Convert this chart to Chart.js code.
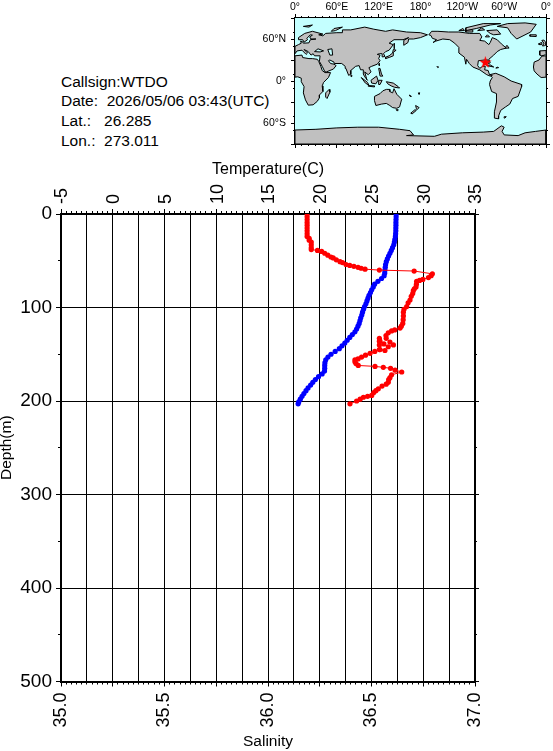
<!DOCTYPE html>
<html>
<head>
<meta charset="utf-8">
<title>WTDO</title>
<script src="https://cdn.jsdelivr.net/npm/chart.js@4/dist/chart.umd.min.js"></script>
<style>
html, body { margin: 0; padding: 0; background: #fff; width: 553px; height: 751px; overflow: hidden; }
canvas { position: absolute; }
#profileChart { left: 0; top: 155px; }
#mapChart { left: 250px; top: 0; }
.info { position: absolute; left: 61px; font: 15.5px "Liberation Sans", sans-serif; line-height: 18px; white-space: pre; color: #000; }
</style>
</head>
<body>
<div class="info" style="top:73px">Callsign:WTDO</div>
<div class="info" style="top:92px">Date:  2026/05/06 03:43(UTC)</div>
<div class="info" style="top:112px">Lat.:   26.285</div>
<div class="info" style="top:132px">Lon.:  273.011</div>
<canvas id="profileChart" width="553" height="596"></canvas>
<canvas id="mapChart" width="303" height="160"></canvas>
<script>
var tempDepths = [0, 3, 6, 9, 12, 15, 18, 21, 24, 27, 30, 33, 36, 39, 42, 45, 48, 51, 54, 57, 60, 63, 66, 69, 72, 75, 78, 81, 84, 87, 90, 93, 96, 99, 102, 105, 108, 111, 114, 117, 120, 123, 126, 129, 132, 135, 138, 141, 144, 147, 150, 153, 156, 159, 162, 165, 168, 171, 174, 177, 180, 183, 186, 189, 192, 195, 198, 201, 203];
var temperatures = [27.38, 27.38, 27.37, 27.36, 27.36, 27.35, 27.35, 27.33, 27.31, 27.26, 27.21, 27.15, 27.03, 26.91, 26.78, 26.65, 26.53, 26.43, 26.36, 26.33, 26.30, 26.28, 26.22, 25.97, 25.62, 25.30, 25.17, 25.02, 24.90, 24.76, 24.66, 24.56, 24.46, 24.33, 24.23, 24.13, 24.06, 23.96, 23.89, 23.81, 23.69, 23.56, 23.40, 23.15, 22.90, 22.65, 22.42, 22.15, 21.89, 21.49, 21.09, 20.79, 20.58, 20.50, 20.48, 20.48, 20.46, 20.23, 19.88, 19.58, 19.33, 19.12, 18.87, 18.67, 18.47, 18.29, 18.12, 17.97, 17.91];

var salDepths = [0, 3, 6, 9, 12, 15, 18, 21, 24, 26, 28, 30, 33, 36, 38, 39, 40, 42, 44, 46, 47, 49, 51, 52, 54, 55, 56, 57, 58, 59, 60, 61, 64, 66, 68, 70, 71, 72, 75, 78, 80, 82, 85, 88, 92, 95, 99, 102, 105, 109, 113, 117, 120, 122, 124, 125, 127, 130, 133, 137, 140, 142, 139, 136, 133, 136, 140, 145, 146, 145, 147, 149, 151, 153, 155, 156, 158, 160, 162, 163, 164, 165, 167, 169, 172, 175, 177, 180, 182, 184, 187, 189, 191, 194, 195, 196, 198, 200, 203];
var salinities = [36.189, 36.189, 36.189, 36.189, 36.189, 36.189, 36.189, 36.189, 36.189, 36.199, 36.199, 36.209, 36.209, 36.209, 36.209, 36.239, 36.259, 36.274, 36.289, 36.304, 36.315, 36.33, 36.348, 36.36, 36.377, 36.395, 36.415, 36.435, 36.45, 36.469, 36.538, 36.706, 36.794, 36.788, 36.775, 36.748, 36.732, 36.718, 36.717, 36.715, 36.707, 36.702, 36.699, 36.692, 36.686, 36.677, 36.67, 36.657, 36.654, 36.654, 36.653, 36.651, 36.644, 36.638, 36.612, 36.597, 36.581, 36.57, 36.571, 36.589, 36.606, 36.581, 36.56, 36.538, 36.538, 36.541, 36.538, 36.538, 36.565, 36.541, 36.516, 36.493, 36.471, 36.452, 36.435, 36.42, 36.42, 36.425, 36.436, 36.517, 36.557, 36.592, 36.614, 36.646, 36.597, 36.589, 36.583, 36.581, 36.571, 36.551, 36.533, 36.521, 36.511, 36.501, 36.481, 36.461, 36.445, 36.428, 36.396];

var tempTicks = { '-5': '-5', '0': '0', '5': '5', '10': '10', '15': '15', '20': '20', '25': '25', '30': '30', '35': '35' };
var salTickLabels = ['35.0', '35.5', '36.0', '36.5', '37.0'];
var lonTickLabels = ['0°', '60°E', '120°E', '180°', '120°W', '60°W', '0°'];
var latTickLabels = { '60': '60°N', '0': '0°', '-60': '60°S' };

var stationLon = [273.011];
var stationLat = [26.285];

var africa = [[0, 36], [10, 37], [11, 33.5], [20, 32], [25, 32], [32, 31], [34, 28], [37, 21], [39, 15], [43, 12], [51, 12], [48, 5], [41, -2], [39, -7], [40, -15], [35, -20], [35, -24], [32, -29], [26, -34], [19, -34.5], [15, -27], [12, -17], [13, -8], [9, -1], [9, 4], [4, 6], [0, 5.5]];
var westAfrica = [[360, 36], [354, 35.5], [350, 30], [343, 27], [342, 20], [343, 14.5], [347, 10], [353, 5], [360, 5.5]];
var eurasia = [[0, 39], [0, 49.5], [5, 52], [9, 54], [8, 57], [11, 56], [12, 54], [20, 54.5], [22, 59], [30, 60], [23, 60], [21, 63], [25, 65.5], [22, 66], [17, 61], [18, 59], [13, 55.5], [11, 59], [5, 59], [5, 62], [14, 68], [25, 71], [40, 67], [34, 66], [40, 64.5], [44, 68], [60, 69], [68, 69], [68, 73], [80, 73], [100, 77], [113, 74], [130, 71], [140, 73], [160, 70], [180, 69], [190, 66], [180, 62], [170, 60], [163, 60], [162, 55], [156, 51], [156, 58], [163, 62], [155, 59], [142, 59], [135, 54], [141, 52], [135, 44], [130, 42], [127, 39], [129, 35], [126, 34.5], [125, 39], [121, 39], [118, 38], [122, 37], [120, 32], [122, 29], [118, 24], [110, 21], [106, 19], [109, 13], [105, 9], [100, 13], [103, 2], [104, 1], [100, 6], [98, 10], [98, 16], [94, 16], [92, 22], [87, 21], [80, 15], [80, 10], [77, 8], [73, 18], [72, 21], [67, 25], [57, 25], [56, 27], [50, 30], [48, 29], [51, 25], [56, 24], [59, 22], [55, 17], [45, 13], [43, 13], [39, 21], [35, 28], [36, 36], [28, 36], [26, 39], [23, 37], [19, 42], [13, 45], [18, 40], [16, 38], [10, 44], [3, 43]];
var iberia = [[360, 43.5], [351, 43], [351, 37], [354, 36], [358, 37], [360, 39]];
var britain = [[360, 51.5], [358, 50.5], [355, 50], [357, 54], [354, 58], [357, 58.5], [359, 56], [360, 54]];
var ireland = [[350, 52], [354, 52], [354, 55], [351, 54]];
var iceland = [[337, 64], [346, 63.5], [346, 66], [337, 66]];
var northAmerica = [[192, 66], [196, 71], [205, 71], [220, 70], [235, 70], [250, 68], [265, 68], [268, 63], [265, 58], [272, 57], [278, 52], [280, 55], [283, 62], [290, 59], [296, 53], [303, 47], [295, 45], [290, 42], [285, 37], [278, 31], [280, 26], [278, 25], [277, 30], [272, 30], [263, 29], [262, 22], [265, 18], [269, 21], [273, 21], [272, 16], [277, 15], [279, 9], [283, 8], [280, 7], [275, 9], [265, 16], [255, 20], [250, 25], [246, 31], [245, 24], [243, 34], [235, 40], [235, 48], [229, 54], [222, 59], [212, 60], [202, 57], [198, 55], [203, 59], [197, 61], [195, 65]];
var ellesmere = [[245, 72], [260, 75], [280, 80], [295, 82], [270, 82], [245, 76]];
var baffin = [[285, 66], [295, 67], [290, 73], [275, 72], [280, 68]];
var victoria = [[245, 70], [255, 70], [255, 73], [245, 73]];
var banks = [[235, 72], [243, 72], [241, 75]];
var devon = [[262, 72], [272, 73], [268, 76]];
var southampton = [[273, 63], [279, 63], [276, 66]];
var greenland = [[305, 82], [330, 83], [346, 81], [338, 70], [318, 60], [310, 68], [305, 76], [290, 78]];
var newfoundland = [[301, 47], [307, 47], [304, 51]];
var cuba = [[275, 22], [285, 20], [280, 23]];
var hispaniola = [[288, 18.5], [292, 19], [291, 20]];
var southAmerica = [[279, 9], [288, 11], [300, 6], [310, 0], [325, -5], [325, -8], [320, -22], [312, -25], [308, -33], [302, -37], [295, -42], [292, -50], [292, -54], [286, -53], [286, -44], [289, -30], [289, -18], [282, -15], [279, -5], [280, 0], [283, 5]];
var falklands = [[300, -51], [303, -51], [301, -53]];
var australia = [[114, -22], [122, -18], [126, -14], [131, -12], [136, -12], [136, -15], [140, -17], [142, -11], [146, -19], [153, -26], [150, -37], [146, -39], [140, -38], [136, -35], [131, -32], [124, -33], [116, -35], [114, -28]];
var nzNorth = [[173, -35], [178, -38], [175, -41], [174, -39]];
var nzSouth = [[172, -41], [174, -42], [168, -47], [166, -46]];
var newGuinea = [[131, -1], [141, -3], [148, -8], [150, -10], [143, -9], [138, -7], [133, -4]];
var borneo = [[109, 1], [117, 7], [119, 1], [116, -4], [110, -3]];
var sumatra = [[95, 5], [104, -2], [106, -6], [101, -3]];
var java = [[105, -6.5], [114, -7], [114, -8.5], [106, -7.5]];
var sulawesi = [[120, 1], [125, 1], [122, -5], [120, -5]];
var philippines = [[120, 18], [122, 18], [124, 10], [126, 7], [122, 7], [121, 13]];
var japan = [[130, 32], [136, 34], [141, 36], [141, 41], [145, 44], [141, 45], [140, 40], [135, 36], [130, 34]];
var sriLanka = [[80, 9.5], [82, 7], [80.5, 6]];
var madagascar = [[49, -12], [50, -16], [46, -25], [44, -23], [44, -17]];
var sakhalin = [[142, 46], [143, 54], [142, 50]];
var taiwan = [[121, 25], [121, 22], [120, 23]];
var novayaZemlya = [[52, 71], [56, 75], [68, 77], [58, 72]];
var svalbard = [[12, 78], [25, 80], [20, 77]];
var tasmania = [[145, -41], [148, -41], [147, -43]];
var hawaii = [[203.5, 20.5], [205, 19], [206, 20]];
var fiji = [[177, -17], [179, -17], [178, -19]];
var newCaledonia = [[164, -20], [167, -22], [165, -22]];
var antarctica = [[0, -70], [30, -69], [60, -67], [90, -66], [120, -66], [150, -69], [165, -71], [170, -77], [160, -78], [200, -79], [210, -76], [240, -74], [270, -73], [285, -72], [296, -64], [300, -66], [297, -72], [300, -77], [320, -78], [330, -74], [345, -72], [360, -70], [360, -90], [0, -90]];
var blackSea = [[28, 42], [33, 46], [41, 43], [36, 41.5]];
var caspian = [[47, 45], [53, 46], [54, 37], [50, 37]];

var landShapes = [africa, westAfrica, eurasia, iberia, britain, ireland, iceland, northAmerica, ellesmere, baffin, victoria, banks, devon, southampton, greenland, newfoundland, cuba, hispaniola, southAmerica, falklands, australia, nzNorth, nzSouth, newGuinea, borneo, sumatra, java, sulawesi, philippines, japan, sriLanka, madagascar, sakhalin, taiwan, novayaZemlya, svalbard, tasmania, hawaii, fiji, newCaledonia, antarctica];
var seaShapes = [blackSea, caspian];

var landColor = '#c0c0c0';
var seaColor = '#c4ffff';
var textFont = '"Liberation Sans", sans-serif';

// keeps an axis box at a fixed size, so the plot area lands where the reference has it
function fixedSize(size) {
    return function(scale) {
        if (scale.isHorizontal()) {
            scale.height = size;
        } else {
            scale.width = size;
        }
        scale.paddingLeft = 0;
        scale.paddingRight = 0;
        scale.paddingTop = 0;
        scale.paddingBottom = 0;
    };
}

// an unlabelled axis of zero size that only draws tick marks (or grid lines)
function markAxis(axis, position, min, max, step, tickLength, onChart) {
    return {
        axis: axis,
        type: 'linear',
        position: position,
        min: min,
        max: max,
        weight: -1,
        afterFit: fixedSize(0),
        border: { display: false },
        grid: {
            drawOnChartArea: !!onChart,
            drawTicks: tickLength > 0,
            tickLength: tickLength,
            color: '#000',
            tickColor: '#000',
            lineWidth: 1
        },
        ticks: {
            stepSize: step,
            autoSkip: false,
            callback: function() { return ''; },
            padding: 0,
            font: { size: 1 }
        }
    };
}

function pointsFrom(xs, ys) {
    return xs.map(function(x, i) {
        return { x: x, y: ys[i] };
    });
}

function profileDataset(label, xs, ys, color, xAxis) {
    return {
        label: label,
        data: pointsFrom(xs, ys),
        showLine: true,
        borderColor: color,
        backgroundColor: color,
        borderWidth: 1,
        pointRadius: 2.6,
        pointBorderWidth: 0,
        tension: 0,
        xAxisID: xAxis,
        yAxisID: 'yDepth'
    };
}

var profileConfig = {
    type: 'scatter',
    data: {
        datasets: [
            profileDataset('Salinity', salinities, salDepths, '#ff0000', 'xSal'),
            profileDataset('Temperature', temperatures, tempDepths, '#0000ff', 'xTemp')
        ]
    },
    options: {
        responsive: false,
        animation: false,
        layout: { padding: { right: 78 } },
        plugins: { legend: { display: false }, tooltip: { enabled: false } },
        scales: {
            xTemp: {
                axis: 'x',
                type: 'linear',
                position: 'top',
                min: -5,
                max: 35,
                afterFit: fixedSize(59),
                border: { color: '#000', width: 2 },
                grid: { drawOnChartArea: false, tickLength: 5, tickColor: '#000' },
                title: { display: true, text: 'Temperature(C)', color: '#000', padding: { top: 5, bottom: 0 }, font: { family: textFont, size: 16 } },
                ticks: {
                    stepSize: 5,
                    autoSkip: false,
                    minRotation: 90,
                    maxRotation: 90,
                    padding: 5,
                    labelOffset: 23,
                    color: '#000',
                    font: { family: textFont, size: 18 },
                    callback: function(v) { return tempTicks[String(v)]; }
                }
            },
            xTempGrid: markAxis('x', 'top', -5, 35, 2.5, 0, true),
            xTempMinor: markAxis('x', 'top', -5, 35, 0.5, 3),
            xSal: {
                axis: 'x',
                type: 'linear',
                position: 'bottom',
                min: 35,
                max: 37,
                afterFit: fixedSize(69.5),
                border: { color: '#000', width: 2 },
                grid: { drawOnChartArea: false, tickLength: 5, tickColor: '#000' },
                title: { display: true, text: 'Salinity', color: '#000', padding: 0, font: { family: textFont, size: 15.5 } },
                ticks: {
                    stepSize: 0.25,
                    autoSkip: false,
                    minRotation: 90,
                    maxRotation: 90,
                    padding: 6,
                    color: '#000',
                    font: { family: textFont, size: 18 },
                    callback: function(v) {
                        var i = (v - 35) / 0.5;
                        return Number.isInteger(i) ? salTickLabels[i] : '';
                    }
                }
            },
            xSalMinor: markAxis('x', 'bottom', 35, 37, 0.025, 3),
            yDepth: {
                axis: 'y',
                type: 'linear',
                position: 'left',
                reverse: true,
                min: 0,
                max: 500,
                afterFit: fixedSize(61),
                border: { color: '#000', width: 2 },
                grid: { color: '#000', tickColor: '#000', tickLength: 5, lineWidth: 1 },
                title: { display: true, text: 'Depth(m)', color: '#000', padding: { top: -3, bottom: 0 }, font: { family: textFont, size: 15.5 } },
                ticks: {
                    stepSize: 100,
                    autoSkip: false,
                    padding: 4,
                    color: '#000',
                    font: { family: textFont, size: 19 }
                }
            },
            yDepthMinor: markAxis('y', 'left', 0, 500, 50, 3),
            yRight: {
                axis: 'y',
                type: 'linear',
                position: 'right',
                reverse: true,
                min: 0,
                max: 500,
                afterFit: fixedSize(0),
                border: { color: '#000', width: 2 },
                grid: { drawOnChartArea: false, tickLength: 4, tickColor: '#000' },
                ticks: { stepSize: 100, autoSkip: false, callback: function() { return ''; }, padding: 0, font: { size: 1 } }
            },
            yRightMinor: markAxis('y', 'right', 0, 500, 50, 2)
        }
    }
};

function shapeDataset(shape, fillColor, lineColor) {
    return {
        data: shape.concat([shape[0]]).map(function(p) {
            return { x: p[0], y: p[1] };
        }),
        showLine: true,
        fill: 'shape',
        backgroundColor: fillColor,
        borderColor: lineColor,
        borderWidth: 1,
        pointRadius: 0,
        tension: 0
    };
}

function starImage() {
    var c = document.createElement('canvas');
    c.width = 13;
    c.height = 13;
    var g = c.getContext('2d');
    g.fillStyle = '#ff0000';
    g.beginPath();
    for (var i = 0; i < 10; i++) {
        var r = i % 2 ? 2.6 : 6.5;
        var a = -Math.PI / 2 + i * Math.PI / 5;
        g.lineTo(6.5 + r * Math.cos(a), 6.5 + r * Math.sin(a));
    }
    g.closePath();
    g.fill();
    return c;
}

// ocean colour behind the land shapes
var oceanPlugin = {
    id: 'ocean',
    beforeDatasetsDraw: function(chart) {
        var a = chart.chartArea;
        chart.ctx.save();
        chart.ctx.fillStyle = seaColor;
        chart.ctx.fillRect(a.left, a.top, a.right - a.left, a.bottom - a.top);
        chart.ctx.restore();
    }
};

var mapDatasets = [{
    data: pointsFrom(stationLon, stationLat),
    pointStyle: starImage(),
    pointRadius: 6,
    showLine: false
}].concat(seaShapes.map(function(s) {
    return shapeDataset(s, seaColor, '#000');
})).concat(landShapes.map(function(s) {
    return shapeDataset(s, landColor, '#000');
}));

var mapConfig = {
    type: 'scatter',
    data: { datasets: mapDatasets },
    plugins: [oceanPlugin],
    options: {
        responsive: false,
        animation: false,
        layout: { padding: { right: 6 } },
        plugins: { legend: { display: false }, tooltip: { enabled: false } },
        scales: {
            x: {
                type: 'linear',
                position: 'top',
                min: 0,
                max: 360,
                afterFit: fixedSize(18),
                border: { color: '#000', width: 2 },
                grid: { drawOnChartArea: false, tickLength: 4, tickColor: '#000' },
                ticks: {
                    stepSize: 60,
                    autoSkip: false,
                    maxRotation: 0,
                    padding: 1,
                    color: '#000',
                    font: { family: textFont, size: 10.5 },
                    callback: function(v) { return lonTickLabels[v / 60]; }
                }
            },
            xMinor: markAxis('x', 'top', 0, 360, 10, 2),
            xBottom: {
                axis: 'x',
                type: 'linear',
                position: 'bottom',
                min: 0,
                max: 360,
                afterFit: fixedSize(16),
                border: { color: '#000', width: 2 },
                grid: { drawOnChartArea: false, tickLength: 4, tickColor: '#000' },
                ticks: { stepSize: 60, autoSkip: false, maxRotation: 0, callback: function() { return ''; } }
            },
            xBottomMinor: markAxis('x', 'bottom', 0, 360, 10, 2),
            y: {
                type: 'linear',
                position: 'left',
                min: -90,
                max: 90,
                afterFit: fixedSize(45),
                border: { color: '#000', width: 2 },
                grid: { drawOnChartArea: false, tickLength: 4, tickColor: '#000' },
                ticks: {
                    stepSize: 30,
                    autoSkip: false,
                    padding: 5,
                    color: '#000',
                    font: { family: textFont, size: 10.5 },
                    callback: function(v) { return latTickLabels[String(v)] || ''; }
                }
            },
            yMinor: markAxis('y', 'left', -90, 90, 20, 2),
            yRight: {
                axis: 'y',
                type: 'linear',
                position: 'right',
                min: -90,
                max: 90,
                afterFit: fixedSize(0),
                border: { color: '#000', width: 2 },
                grid: { drawOnChartArea: false, tickLength: 4, tickColor: '#000' },
                ticks: { stepSize: 60, autoSkip: false, callback: function() { return ''; }, padding: 0, font: { size: 1 } }
            },
            yRightMinor: markAxis('y', 'right', -90, 90, 20, 2)
        }
    }
};

window.onload = function() {
    var profileCtx = document.getElementById('profileChart').getContext('2d');
    window.profileChart = new Chart(profileCtx, profileConfig);

    var mapCtx = document.getElementById('mapChart').getContext('2d');
    window.mapChart = new Chart(mapCtx, mapConfig);
};
</script>
</body>
</html>
